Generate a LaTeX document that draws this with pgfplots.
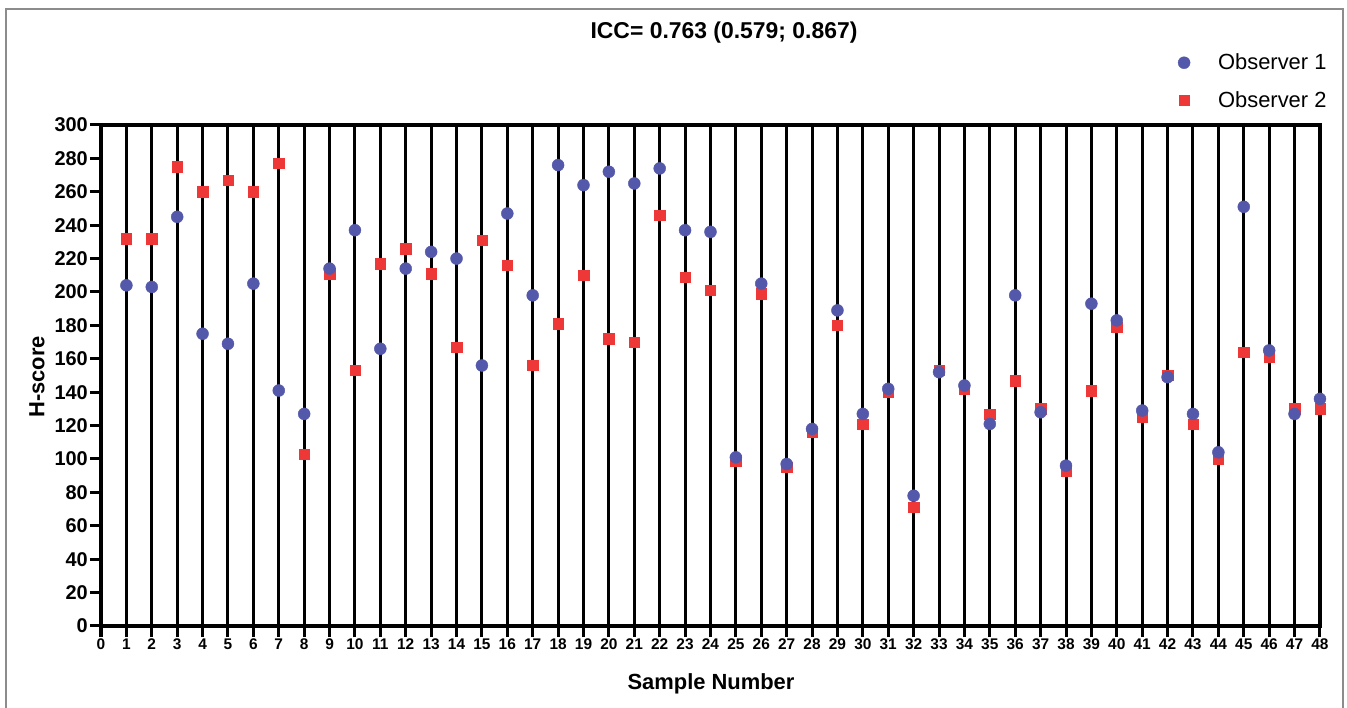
\documentclass[border=0pt]{standalone}
\usepackage{pgfplots}
\pgfplotsset{compat=1.18}
\usepackage{pgfplotstable}
\usepackage{fontspec}
\setmainfont{Liberation Sans}
\definecolor{obsblue}{RGB}{84,88,170}
\definecolor{obsred}{RGB}{238,56,56}
\pgfplotstableread{
x o1 o2
1 204 232
2 203 232
3 245 275
4 175 260
5 169 267
6 205 260
7 141 277
8 127 103
9 214 211
10 237 153
11 166 217
12 214 226
13 224 211
14 220 167
15 156 231
16 247 216
17 198 156
18 276 181
19 264 210
20 272 172
21 265 170
22 274 246
23 237 209
24 236 201
25 101 99
26 205 199
27 97 95
28 118 116
29 189 180
30 127 121
31 142 140
32 78 71
33 152 153
34 144 142
35 121 127
36 198 147
37 128 130
38 96 93
39 193 141
40 183 179
41 129 125
42 149 150
43 127 121
44 104 100
45 251 164
46 165 161
47 127 130
48 136 130
}\datatable
\begin{document}
\begin{tikzpicture}
\useasboundingbox (0bp,0bp) rectangle (1347bp,708bp);
\begin{scope}
\clip (0bp,0bp) rectangle (1347bp,708bp);
\draw[black!45, line width=1.5bp] (6bp,-20bp) rectangle (1343bp,699bp);
\end{scope}
\begin{axis}[
  at={(101bp,82bp)}, anchor=south west,
  width=1219bp, height=501bp, scale only axis,
  xmin=0, xmax=48, ymin=0, ymax=300,
  xtick={0,1,...,48}, ytick={0,20,...,300},
  tick pos=left, tick align=outside,
  major tick length=11bp,
  every tick/.style={black, line width=3bp},
  axis line style={black, line width=4bp},
  xmajorgrids, major grid style={black, line width=3bp},
  /pgf/number format/assume math mode=true,
  xticklabel style={font=\fontsize{15.5}{18}\selectfont\bfseries, inner sep=2bp},
  yticklabel style={font=\fontsize{20}{24}\selectfont\bfseries, inner sep=2bp},
  legend cell align=left,
  reverse legend,
  legend style={at={(1.008,1.026)}, anchor=south east, draw=none, fill=none,
    font=\fontsize{22}{26}\selectfont, row sep=16bp, inner sep=1bp,
    /tikz/every odd column/.append style={column sep=26bp}},
  clip=false,
]
\addplot[only marks, mark=square*, mark size=5.2bp, color=obsred, mark options={draw=obsred, fill=obsred}] table[x=x, y=o2] {\datatable};
\addlegendentry{Observer 2}
\addplot[only marks, mark=*, mark size=6bp, color=obsblue, mark options={draw=obsblue, fill=obsblue}] table[x=x, y=o1] {\datatable};
\addlegendentry{Observer 1}
\end{axis}
\node[font=\fontsize{23}{27}\selectfont\bfseries] at (724bp,675bp) {ICC= 0.763 (0.579; 0.867)};
\node[font=\fontsize{22}{26}\selectfont\bfseries] at (711bp,24bp) {Sample Number};
\node[font=\fontsize{22}{26}\selectfont\bfseries, rotate=90] at (37bp,331bp) {H-score};
\end{tikzpicture}
\end{document}
